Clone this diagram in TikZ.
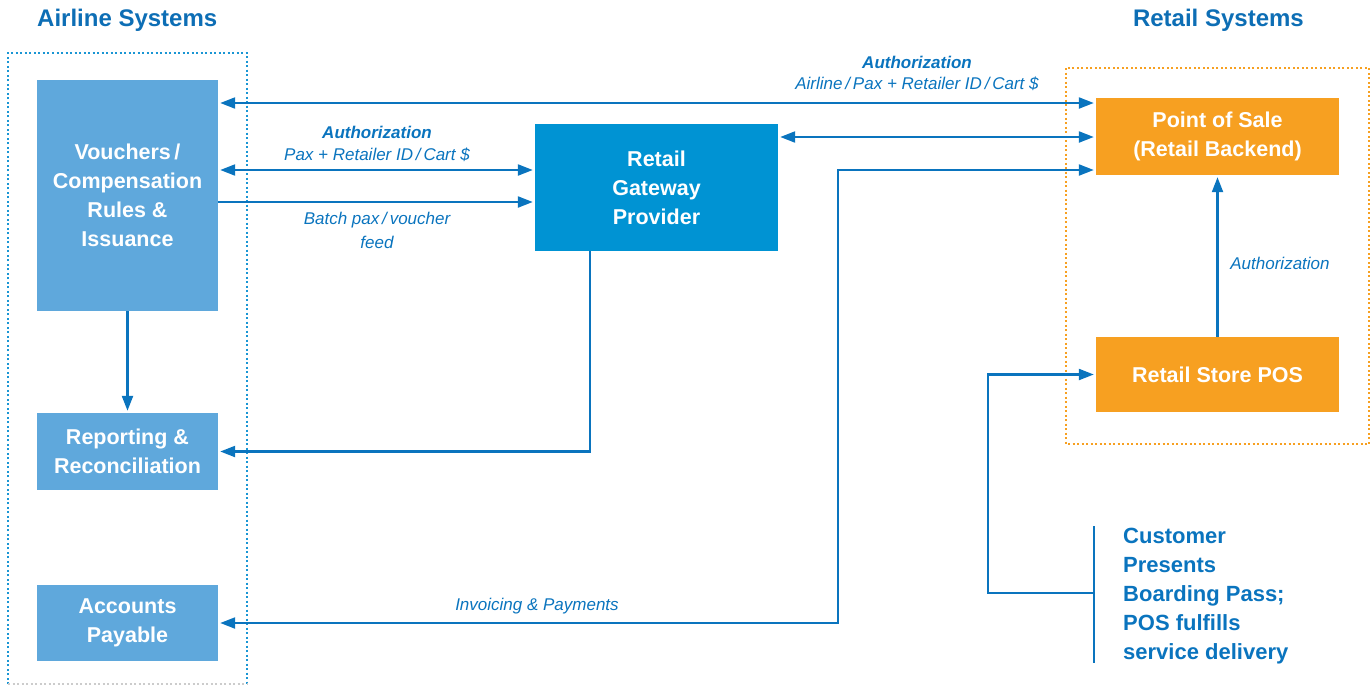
\documentclass[tikz,border=0pt]{standalone}
\usepackage{fontspec}
\setmainfont{Liberation Sans}
\usetikzlibrary{arrows.meta}
\definecolor{ablue}{HTML}{0A74BE}
\definecolor{lbox}{HTML}{5FA8DC}
\definecolor{gbox}{HTML}{0093D3}
\definecolor{obox}{HTML}{F7A021}
\definecolor{dblue}{HTML}{1A96D4}
\definecolor{ttl}{HTML}{0D6EB5}
\begin{document}
\begin{tikzpicture}[x=1pt,y=-1pt,
  box/.style={fill=#1, text=white, font=\fontsize{21.5}{29}\selectfont\bfseries, align=center, inner sep=0pt},
  conn/.style={draw=ablue, line width=2.2pt, -{Triangle[length=15pt,width=11pt]}, shorten >=2pt},
  dconn/.style={conn, {Triangle[length=15pt,width=11pt]}-{Triangle[length=15pt,width=11pt]}, shorten <=2pt},
  lbl/.style={text=ablue, font=\fontsize{17}{24}\selectfont\itshape, align=center, inner sep=0pt},
  blbl/.style={text=ablue, font=\fontsize{17}{24}\selectfont\bfseries\itshape, inner sep=0pt},
  ttlstyle/.style={text=ttl, font=\fontsize{24}{28}\selectfont\bfseries, inner sep=0pt},
  dots/.style={line width=2pt, dash pattern=on 2pt off 2.5pt}
]
\useasboundingbox (0,0) rectangle (1372,686);

% titles
\node[ttlstyle, anchor=west] (t1) at (37,20) {Airline Systems};
\node[ttlstyle, anchor=east] (t2) at (1304,20) {Retail Systems};

% group frames
\draw[dots, draw=dblue] (8,684) -- (8,53) -- (247,53) -- (247,684);
\draw[dots, draw=black!20] (8,684) -- (247,684);
\draw[dots, draw=obox] (1066,68) rectangle (1369,444);

% boxes
\node[box=lbox, minimum width=181pt, minimum height=231pt] (vouch) at (127.5,195.5) {Vouchers\,/\\Compensation\\Rules \&\\Issuance};
\node[box=lbox, minimum width=181pt, minimum height=77pt] (rep) at (127.5,451.5) {Reporting \&\\Reconciliation};
\node[box=lbox, minimum width=181pt, minimum height=76pt] (ap) at (127.5,623) {Accounts\\Payable};
\node[box=gbox, minimum width=243pt, minimum height=127pt] (gw) at (656.5,187.5) {Retail\\Gateway\\Provider};
\node[box=obox, minimum width=243pt, minimum height=77pt] (pos) at (1217.5,136.5) {Point of Sale\\(Retail Backend)};
\node[box=obox, minimum width=243pt, minimum height=75pt] (store) at (1217.5,374.5) {Retail Store POS};

% customer text
\node[text=ablue, font=\fontsize{22}{29}\selectfont\bfseries, align=left, anchor=north west, inner sep=0pt] (cust) at (1123,528) {Customer\\Presents\\Boarding Pass;\\POS fulfills\\service delivery};
\coordinate (bt) at (1094,526);
\coordinate (bb) at (1094,663);
\coordinate (bm) at (1094,593);
\coordinate (bl) at (988,593);
\draw[draw=ablue, line width=2.2pt] (bt) -- (bb);
\draw[conn] (bm) -- (bl) |- (store.west);

% connectors
\draw[dconn] (vouch.east |- 0,103) -- (pos.west |- 0,103);
\draw[dconn] (vouch.east |- 0,170) -- (gw.west |- 0,170);
\draw[conn] (vouch.east |- 0,202) -- (gw.west |- 0,202);
\draw[dconn] (gw.east |- 0,137) -- (pos.west |- 0,137);
\coordinate (inv1) at (838,170);
\coordinate (inv2) at (838,623);
\draw[dconn] (pos.west |- inv1) -- (inv1) -- (inv2) -- (ap.east);
\coordinate (gwb) at (590,251);
\draw[conn] (gwb) |- (rep.east);
\draw[conn] (vouch.south) -- (rep.north);
\draw[conn] (store.north) -- (pos.south);

% labels
\node[blbl] (l1a) at (917,62) {Authorization};
\node[lbl] (l1b) at (917,84) {Airline\,/\,Pax + Retailer ID\,/\,Cart \$};
\node[blbl] (l2a) at (377,132) {Authorization};
\node[lbl] (l2b) at (377,155) {Pax + Retailer ID\,/\,Cart \$};
\node[lbl] (l3) at (377,230) {Batch pax\,/\,voucher\\feed};
\node[lbl] (l4) at (537,606) {Invoicing \& Payments};
\node[lbl] (l5) at (1280,263) {Authorization};
\end{tikzpicture}
\end{document}
